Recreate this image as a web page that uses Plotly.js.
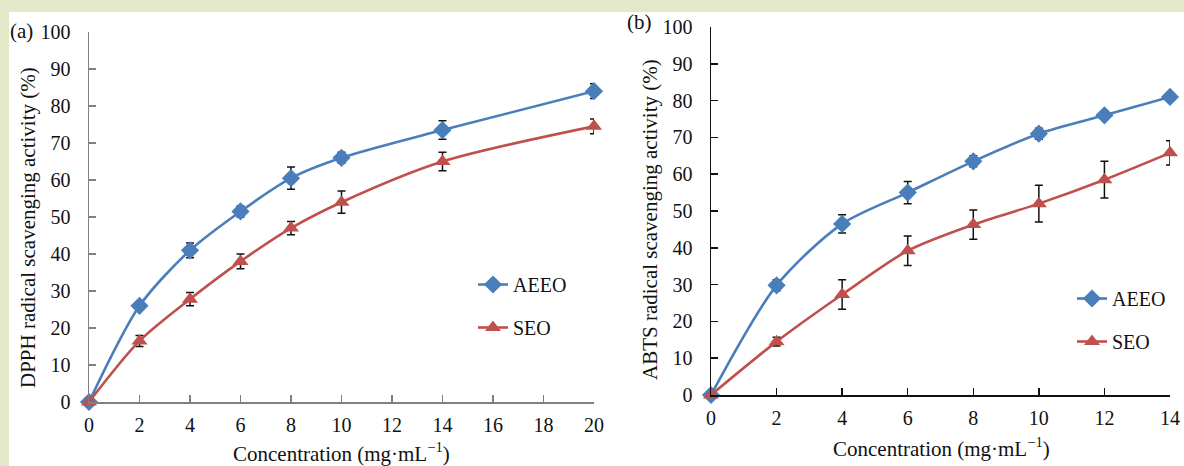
<!DOCTYPE html>
<html>
<head>
<meta charset="utf-8">
<script src="https://cdn.plot.ly/plotly-3.0.1.min.js"></script>
<style>html,body{margin:0;padding:0;background:#fff;}#chart{width:1184px;height:466px;}</style>
</head>
<body>
<div id="chart"></div>
<script>
// Panel (a): DPPH
const concA = [0, 2, 4, 6, 8, 10, 14, 20];
const dpphAEEO = [0, 26, 41, 51.5, 60.5, 66, 73.5, 84];
const dpphAEEOerr = [0.5, 1, 2, 1.5, 3, 1.5, 2.5, 2];
const dpphSEO = [0, 16.5, 27.8, 38, 47, 54, 65, 74.5];
const dpphSEOerr = [0.5, 1.5, 1.8, 2, 1.8, 3, 2.5, 2];
// Panel (b): ABTS
const concB = [0, 2, 4, 6, 8, 10, 12, 14];
const abtsAEEO = [0, 29.8, 46.5, 55, 63.5, 71, 76, 81];
const abtsAEEOerr = [0.5, 1.5, 2.5, 3, 1.5, 1.5, 1, 1];
const abtsSEO = [0, 14.5, 27.3, 39.2, 46.3, 52, 58.5, 65.8];
const abtsSEOerr = [0.5, 1.2, 4, 4, 4, 5, 5, 3.3];
const xTicksA = [0, 2, 4, 6, 8, 10, 12, 14, 16, 18, 20];
const xTicksB = [0, 2, 4, 6, 8, 10, 12, 14];
const yTicks = [0, 10, 20, 30, 40, 50, 60, 70, 80, 90, 100];

const blue = '#4a7ebb', red = '#c0504d';
const serif = 'Liberation Serif, Times New Roman, serif';
const W = 1184, H = 466;
const px = v => v / W, py = v => (H - v) / H;

function tr(x, y, err, name, color, sym, size, xa, ya, leg) {
  return {
    x: x, y: y, name: name, type: 'scatter', mode: 'lines+markers',
    xaxis: xa, yaxis: ya, legend: leg, legendgroup: name + leg,
    line: {color: color, width: 2.6, shape: 'spline', smoothing: 0.8},
    marker: {color: color, symbol: sym, size: size},
    error_y: {type: 'data', array: err, visible: true, color: '#111', thickness: 1.5, width: 4},
    cliponaxis: false
  };
}

const data = [
  tr(concA, dpphAEEO, dpphAEEOerr, 'AEEO', blue, 'diamond', 14, 'x', 'y', 'legend'),
  tr(concA, dpphSEO, dpphSEOerr, 'SEO', red, 'triangle-up', 14, 'x', 'y', 'legend'),
  tr(concB, abtsAEEO, abtsAEEOerr, 'AEEO', blue, 'diamond', 14, 'x2', 'y2', 'legend2'),
  tr(concB, abtsSEO, abtsSEOerr, 'SEO', red, 'triangle-up', 14, 'x2', 'y2', 'legend2')
];

function axis(domain, range, ticks, color, anchor, standoff) {
  return {
    domain: domain, range: range, anchor: anchor, tickvals: ticks, ticktext: ticks.map(String),
    showgrid: false, zeroline: false, showline: true, linecolor: color, linewidth: 1.5,
    ticks: 'inside', ticklen: 7, tickwidth: 1.5, tickcolor: color,
    tickfont: {family: serif, size: 20, color: '#111'}, ticklabelstandoff: standoff,
    fixedrange: true
  };
}

const legendCommon = {
  font: {family: serif, size: 20, color: '#111'}, bgcolor: 'rgba(0,0,0,0)',
  traceorder: 'grouped', tracegroupgap: 14, itemwidth: 30, xanchor: 'left', yanchor: 'middle'
};

function ann(text, x, y, angle) {
  return {text: text, xref: 'paper', yref: 'paper', x: px(x), y: py(y), xanchor: 'center', yanchor: 'middle',
    textangle: angle || 0, showarrow: false, font: {family: serif, size: 21, color: '#111'}};
}

const layout = {
  width: W, height: H, autosize: false,
  margin: {l: 0, r: 0, t: 0, b: 0},
  paper_bgcolor: '#e3e8c8', plot_bgcolor: 'rgba(0,0,0,0)',
  showlegend: true,
  xaxis: axis([px(89), px(594)], [0, 20], xTicksA, '#808080', 'y', 4),
  yaxis: axis([py(402), py(32)], [0, 100], yTicks, '#808080', 'x', 13),
  xaxis2: axis([px(711), px(1170)], [0, 14], xTicksB, '#111', 'y2', 4),
  yaxis2: axis([py(395), py(27)], [0, 100], yTicks, '#111', 'x2', 13),
  legend: Object.assign({x: px(473), y: py(306)}, legendCommon),
  legend2: Object.assign({x: px(1072), y: py(320)}, legendCommon),
  shapes: [
    {type: 'rect', xref: 'paper', yref: 'paper', x0: px(9), x1: 1.01, y0: -0.01, y1: py(12),
     fillcolor: '#ffffff', line: {width: 0}, layer: 'below'}
  ],
  annotations: [
    ann('(a)', 21, 31),
    ann('(b)', 639, 22),
    ann('DPPH radical scavenging activity (%)', 28, 228, -90),
    ann('ABTS radical scavenging activity (%)', 650, 220, -90),
    ann('Concentration (mg·mL<sup>−1</sup>)', 341, 452),
    ann('Concentration (mg·mL<sup>−1</sup>)', 941, 447)
  ]
};

Plotly.newPlot('chart', data, layout, {displayModeBar: false, staticPlot: true});
</script>
</body>
</html>
